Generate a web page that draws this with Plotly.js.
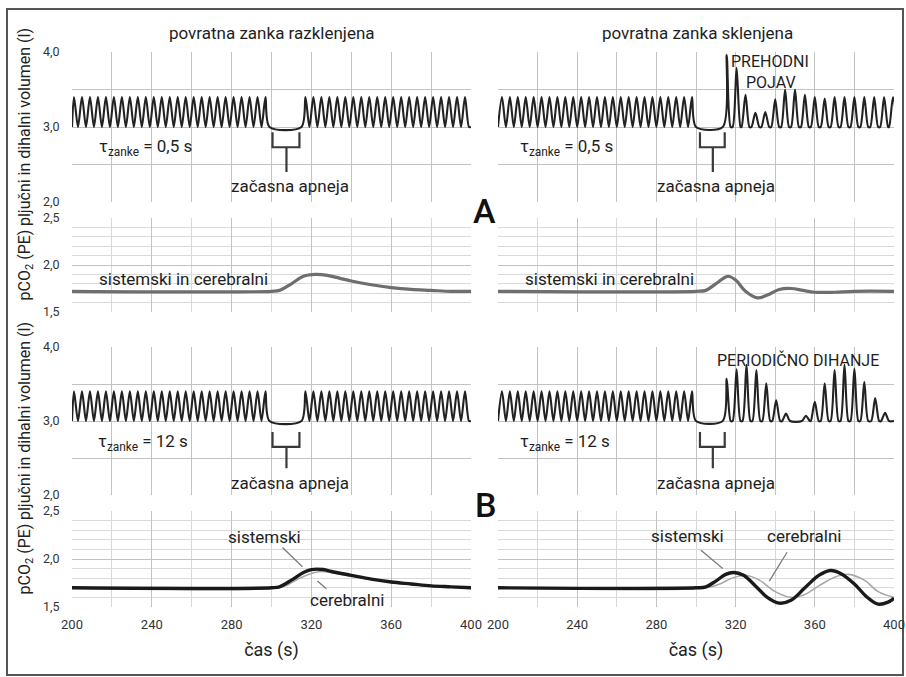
<!DOCTYPE html>
<html><head><meta charset="utf-8">
<script src="https://cdn.plot.ly/plotly-3.0.1.min.js"></script>
<style>html,body{margin:0;padding:0;background:#fff}#chart{width:906px;height:677px}</style>
</head><body><div id="chart"></div>
<script>
// ---------------- DATA ----------------
const FRC = 3.0; // end-expiratory lung volume (l)

// open loop (razklenjena) - both tau values show the same breathing pattern
const openPeakT = [201,205,209,213,217,221,225,229,233,237,241,245,249,253,257,261,265,269,273,277,281,285,289,293,297,
                   317,321,325,329,333,337,341,345,349,353,357,361,365,369,373,377,381,385,389,393,397];
const openPeakV = [3.4,3.4,3.4,3.4,3.4,3.4,3.4,3.4,3.4,3.4,3.4,3.4,3.4,3.4,3.4,3.4,3.4,3.4,3.4,3.4,3.4,3.4,3.4,3.4,3.4,
                   3.4,3.4,3.4,3.4,3.4,3.4,3.4,3.4,3.4,3.4,3.4,3.4,3.4,3.4,3.4,3.4,3.4,3.4,3.4,3.4,3.4];

// closed loop, tau = 0.5 s (prehodni pojav)
const closedA_T = [202,206,210,214,218,222,226,230,234,238,242,246,250,254,258,262,266,270,274,278,282,286,290,294,298,
                   315.5,320.5,325,330,335,340,345,350,355,360,365,370,375,380,385,390,395,399.5];
const closedA_V = [3.4,3.4,3.4,3.4,3.4,3.4,3.4,3.4,3.4,3.4,3.4,3.4,3.4,3.4,3.4,3.4,3.4,3.4,3.4,3.4,3.4,3.4,3.4,3.4,3.4,
                   3.96,3.79,3.43,3.19,3.2,3.37,3.5,3.5,3.43,3.4,3.38,3.4,3.4,3.4,3.4,3.4,3.4,3.4];

// closed loop, tau = 12 s (periodicno dihanje)
const closedB_T = [202,206,210,214,218,222,226,230,234,238,242,246,250,254,258,262,266,270,274,278,282,286,290,294,298,
                   315.5,320.5,325.5,330.5,335.5,340.5,345.5,355.5,360,365,370,375,380,385,390.5,395.5];
const closedB_V = [3.4,3.4,3.4,3.4,3.4,3.4,3.4,3.4,3.4,3.4,3.4,3.4,3.4,3.4,3.4,3.4,3.4,3.4,3.4,3.4,3.4,3.4,3.4,3.4,3.4,
                   3.57,3.7,3.76,3.69,3.51,3.28,3.1,3.07,3.26,3.51,3.69,3.76,3.71,3.53,3.31,3.11];

// pCO2, tau = 0.5 s
const pA_open_t = [200,300,304,310,316,322,328,334,340,350,360,370,380,390,400];
const pA_open_v = [1.72,1.72,1.73,1.8,1.88,1.9,1.89,1.86,1.83,1.79,1.76,1.74,1.73,1.72,1.72];
const pA_closed_t = [200,300,305,310,316,320,325,331,336,342,348,354,360,370,380,400];
const pA_closed_v = [1.72,1.72,1.73,1.8,1.88,1.84,1.72,1.65,1.68,1.74,1.75,1.73,1.71,1.71,1.72,1.72];

// pCO2, tau = 12 s
const pB_open_sys_t = [200,300,304,310,316,320,326,330,340,350,360,370,380,390,400];
const pB_open_sys_v = [1.7,1.7,1.71,1.78,1.86,1.89,1.89,1.87,1.83,1.79,1.76,1.74,1.72,1.71,1.7];
const pB_open_cer_t = [200,303,308,314,320,325,330,340,360,380,400];
const pB_open_cer_v = [1.7,1.7,1.73,1.8,1.85,1.87,1.86,1.82,1.76,1.72,1.7];
const pB_closed_sys_t = [200,300,305,310,315,319,324,330,336,342,348,355,362,368,373,380,386,392,397,400];
const pB_closed_sys_v = [1.7,1.7,1.71,1.77,1.84,1.86,1.83,1.72,1.6,1.54,1.57,1.7,1.83,1.88,1.85,1.74,1.61,1.53,1.55,1.59];
const pB_closed_cer_t = [200,305,312,318,325,332,340,348,355,362,370,377,385,392,400];
const pB_closed_cer_v = [1.7,1.7,1.74,1.8,1.83,1.78,1.66,1.6,1.63,1.72,1.81,1.84,1.78,1.66,1.6];

// ticks (labelled) and grid steps
const xTickVals = [200,240,280,320,360,400];
const xTickText = ['200','240','280','320','360','400'];
const volTickVals = [2.0,3.0,4.0];
const volTickText = ['2,0','3,0','4,0'];
const pTickVals = [1.5,2.0,2.5];
const pTickText = ['1,5','2,0','2,5'];

// ---------------- BUILD ----------------
function breathing(peakT, peakV) {
  const xs = [200], ys = [FRC];
  for (let i = 0; i < peakT.length; i++) {
    const t = peakT[i];
    if (t - 2 > xs[xs.length - 1] + 0.01) { xs.push(t - 2); ys.push(FRC); }
    xs.push(t); ys.push(peakV[i]);
    xs.push(t + 2); ys.push(FRC);
  }
  if (xs[xs.length - 1] < 400) { xs.push(400); ys.push(FRC); }
  return {xs, ys};
}

const F = "Roboto, 'Liberation Sans', sans-serif";
const W = 906, H = 677;
const px = x => x / W, py = y => 1 - y / H;

const volLine = {color: '#222', width: 2.1, shape: 'spline', smoothing: 0.8};
function vt(d, n) { return {x: d.xs, y: d.ys, xaxis: 'x' + n, yaxis: 'y' + n, mode: 'lines', line: volLine, hoverinfo: 'skip'}; }
function lt(t, v, n, color, width) { return {x: t, y: v, xaxis: 'x' + n, yaxis: 'y' + n, mode: 'lines', line: {color, width, shape: 'spline', smoothing: 1}, hoverinfo: 'skip'}; }

const traces = [
  vt(breathing(openPeakT, openPeakV), ''),
  vt(breathing(closedA_T, closedA_V), 2),
  lt(pA_open_t, pA_open_v, 3, '#6e6e6e', 3.2),
  lt(pA_closed_t, pA_closed_v, 4, '#6e6e6e', 3.2),
  vt(breathing(openPeakT, openPeakV), 5),
  vt(breathing(closedB_T, closedB_V), 6),
  lt(pB_open_cer_t, pB_open_cer_v, 7, '#a8a8a8', 1.6),
  lt(pB_open_sys_t, pB_open_sys_v, 7, '#1a1a1a', 3.4),
  lt(pB_closed_cer_t, pB_closed_cer_v, 8, '#a8a8a8', 1.6),
  lt(pB_closed_sys_t, pB_closed_sys_v, 8, '#1a1a1a', 3.4)
];
traces[0].xaxis = 'x'; traces[0].yaxis = 'y';

const colL = [px(72), px(471)], colR = [px(498), px(894)];
const rows = [[py(202), py(52)], [py(312), py(218)], [py(495), py(347)], [py(607), py(511)]];
const GRID = '#c2c2c2', GRID2 = '#d9d9d9';

function xax(col, row, anchor) {
  const vol = row % 2 === 0;
  const o = {domain: col === 0 ? colL : colR, range: [200, 400], anchor: anchor,
    tickmode: 'array', tickvals: xTickVals, ticktext: xTickText,
    minor: {tickmode: 'linear', tick0: 200, dtick: 20, showgrid: true, gridcolor: vol ? GRID : GRID2, gridwidth: 1},
    showticklabels: row === 3, showgrid: true, gridcolor: GRID, gridwidth: 1, ticklabeloverflow: 'allow',
    zeroline: false, showline: false, ticks: row === 3 ? 'outside' : '', ticklen: 5, tickcolor: 'rgba(0,0,0,0)',
    tickfont: {family: F, size: 13, color: '#333'}, fixedrange: true};
  if (row === 3) o.title = {text: 'čas (s)', font: {family: F, size: 18, color: '#222'}, standoff: 12};
  return o;
}
function yax(col, row, anchor) {
  const vol = row % 2 === 0;
  const o = {domain: rows[row], range: vol ? [2, 4] : [1.5, 2.5], anchor: anchor,
    tickmode: 'array', tickvals: vol ? volTickVals : pTickVals, ticktext: vol ? volTickText : pTickText,
    minor: {tickmode: 'linear', tick0: vol ? 2 : 1.5, dtick: vol ? 0.5 : 0.1, showgrid: true, gridcolor: vol ? GRID : GRID2, gridwidth: 1},
    showticklabels: col === 0, showgrid: true, gridcolor: GRID, gridwidth: 1,
    zeroline: false, showline: false, ticks: col === 0 ? 'outside' : '', ticklen: 9, tickcolor: 'rgba(0,0,0,0)',
    tickfont: {family: F, size: 12.5, color: '#333'}, fixedrange: true};
  if (col === 0) o.title = {text: vol ? 'pljučni in dihalni volumen (l)' : 'pCO<sub>2</sub> (PE)', font: {family: F, size: 16, color: '#222'}, standoff: 8};
  return o;
}

const layout = {
  width: W, height: H, margin: {l: 0, r: 0, t: 0, b: 0},
  paper_bgcolor: '#fff', plot_bgcolor: '#fff', showlegend: false, separators: ', ',
  font: {family: F, color: '#222', size: 15},
  xaxis: xax(0, 0, 'y'), yaxis: yax(0, 0, 'x'),
  xaxis2: xax(1, 0, 'y2'), yaxis2: yax(1, 0, 'x2'),
  xaxis3: xax(0, 1, 'y3'), yaxis3: yax(0, 1, 'x3'),
  xaxis4: xax(1, 1, 'y4'), yaxis4: yax(1, 1, 'x4'),
  xaxis5: xax(0, 2, 'y5'), yaxis5: yax(0, 2, 'x5'),
  xaxis6: xax(1, 2, 'y6'), yaxis6: yax(1, 2, 'x6'),
  xaxis7: xax(0, 3, 'y7'), yaxis7: yax(0, 3, 'x7'),
  xaxis8: xax(1, 3, 'y8'), yaxis8: yax(1, 3, 'x8'),
  shapes: [], annotations: []
};

// outer frame
layout.shapes.push({type: 'rect', xref: 'paper', yref: 'paper', x0: px(7), x1: px(903), y0: py(675), y1: py(9), line: {color: '#555', width: 2}, layer: 'below'});

// apnea brackets
function bracket(xr, yr, a, b, stem, top, bot, tail) {
  layout.shapes.push({type: 'path', xref: xr, yref: yr,
    path: `M ${a},${top} L ${a},${bot} L ${b},${bot} L ${b},${top} M ${stem},${bot} L ${stem},${tail}`,
    line: {color: '#3a3a3a', width: 2.2}});
}
bracket('x', 'y', 300.5, 314, 307.5, 2.93, 2.73, 2.4);
bracket('x2', 'y2', 302, 314.5, 308.5, 2.93, 2.73, 2.4);
bracket('x5', 'y5', 300.5, 314, 307.5, 2.85, 2.65, 2.36);
bracket('x6', 'y6', 302, 314.5, 308.5, 2.85, 2.65, 2.36);

// pointer lines
function pointer(xr, yr, x0, y0, x1, y1) {
  layout.shapes.push({type: 'line', xref: xr, yref: yr, x0, y0, x1, y1, line: {color: '#7a7a7a', width: 1.3}});
}
pointer('x7', 'y7', 305.5, 2.12, 315.5, 1.92);
pointer('x7', 'y7', 327.5, 1.69, 323, 1.77);
pointer('x8', 'y8', 302.5, 2.09, 313.5, 1.9);
pointer('x8', 'y8', 346, 2.07, 337, 1.77);

function txt(text, x, y, size, extra) {
  layout.annotations.push(Object.assign({text, x: px(x), y: py(y), xref: 'paper', yref: 'paper', showarrow: false,
    xanchor: 'center', yanchor: 'middle', font: {family: F, size: size, color: '#1e1e1e'}}, extra || {}));
}
txt('povratna zanka razklenjena', 272, 33, 17);
txt('povratna zanka sklenjena', 697, 33, 17);
txt('τ<sub>zanke</sub> = 0,5 s', 145, 148, 17);
txt('τ<sub>zanke</sub> = 0,5 s', 566, 148, 17);
txt('τ<sub>zanke</sub> = 12 s', 143, 442, 17);
txt('τ<sub>zanke</sub> = 12 s', 565, 442, 17);
txt('začasna apneja', 290, 186, 17);
txt('začasna apneja', 716, 186, 17);
txt('začasna apneja', 290, 483, 17);
txt('začasna apneja', 716, 483, 17);
txt('PREHODNI', 770, 62, 16);
txt('POJAV', 771, 82, 16);
txt('PERIODIČNO DIHANJE', 798, 360, 16);
txt('A', 485, 211, 34, {font: {family: F, size: 34, color: '#111', weight: 500}});
txt('B', 486, 505, 34, {font: {family: F, size: 34, color: '#111', weight: 500}});
txt('sistemski in cerebralni', 183, 279, 17);
txt('sistemski in cerebralni', 609, 279, 17);
txt('sistemski', 264, 537, 17);
txt('cerebralni', 347, 600, 17);
txt('sistemski', 687, 536, 17);
txt('cerebralni', 804, 536, 17);

Plotly.newPlot('chart', traces, layout, {staticPlot: true, displayModeBar: false});
</script>
</body></html>
